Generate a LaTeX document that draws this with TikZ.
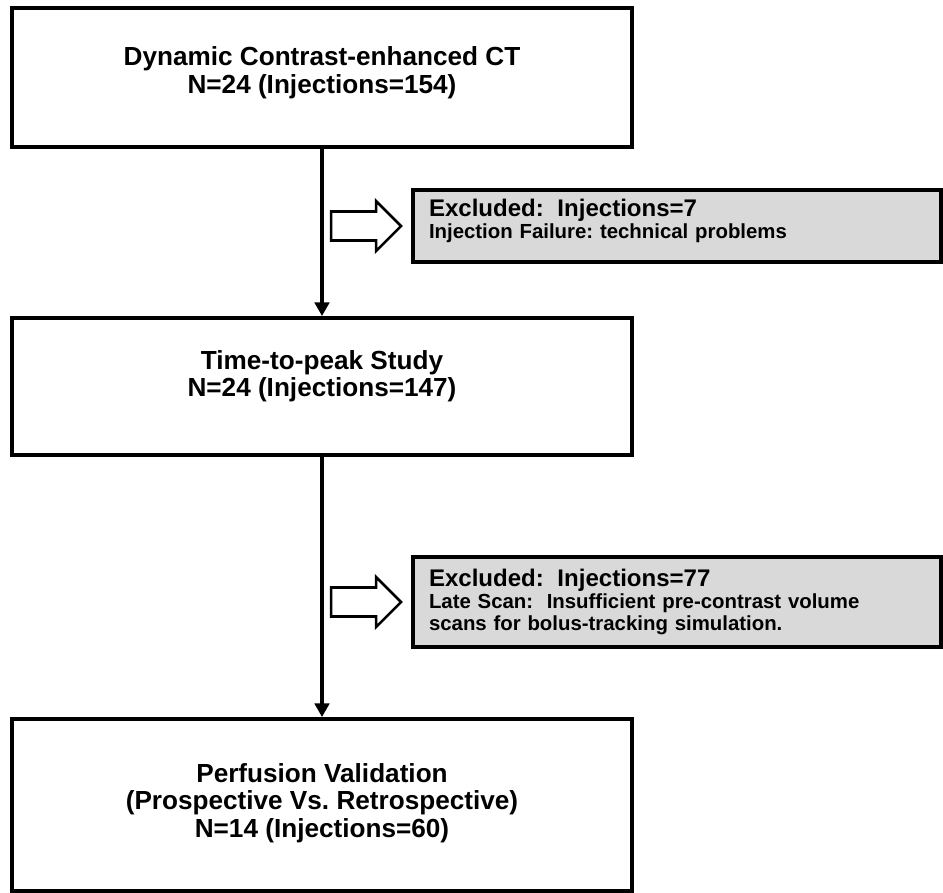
\documentclass[tikz,border=0pt]{standalone}
\usepackage{fontspec}
\setmainfont{Liberation Sans}
\usetikzlibrary{arrows.meta,calc}
\definecolor{flowink}{HTML}{000000}
\definecolor{flowgray}{HTML}{D9D9D9}
\frenchspacing

% hollow block arrow pointing at the west side of an exclusion box
\newcommand{\exclarrow}[1]{%
  \draw[flowink, line width=1.8pt, fill=white, line join=miter]
    ($(#1.west)+(-0.25,0)$) -- ++(-0.625,0.625) -- ++(0,-0.2625)
    -- ++(-1.125,0) -- ++(0,-0.725) -- ++(1.125,0) -- ++(0,-0.2625) -- cycle;}

\begin{document}
\begin{tikzpicture}[
  x=1cm,
  y=1cm,
  every node/.style={font=\bfseries},
  stage/.style={draw=flowink, line width=2.8pt, minimum width=15.5cm,
    align=center, font=\bfseries\fontsize{18.6}{19.6}\selectfont},
  excl/.style={draw=flowink, fill=flowgray, line width=2.8pt,
    minimum width=13.2cm, text width=12.4cm, inner xsep=0.4cm, align=left,
    font=\bfseries\fontsize{14.5}{15.4}\selectfont},
  >={Triangle[length=0.34cm,width=0.36cm]}
]
  \useasboundingbox (0,0) rectangle (23.575,-22.3);

  % ---- study stages ----------------------------------------------------
  \node[stage, minimum height=3.475cm, text depth=0.38cm] (dce) at (8.05,-1.9375)
    {Dynamic Contrast-enhanced CT\\N=24 (Injections=154)};
  \node[stage, minimum height=3.425cm, text depth=0.66cm] (ttp) at (8.05,-9.6625)
    {Time-to-peak Study\\N=24 (Injections=147)};
  \node[stage, minimum height=4.3cm, text depth=0.23cm] (perf) at (8.05,-20.125)
    {Perfusion Validation\\(Prospective Vs. Retrospective)\\N=14 (Injections=60)};

  \draw[flowink, line width=2.8pt, ->] (dce) -- (ttp);
  \draw[flowink, line width=2.8pt, ->] (ttp) -- (perf);

  % ---- exclusions ------------------------------------------------------
  \node[excl, minimum height=1.8cm, text depth=0.9cm] (excla) at (16.925,-5.65)
    {{\fontsize{17.1}{19}\selectfont Excluded:\ \ Injections=7}\\
     Injection Failure: technical problems};
  \node[excl, minimum height=2.25cm] (exclb) at (16.925,-15.05)
    {{\fontsize{17.1}{19}\selectfont Excluded:\ \ Injections=77}\\
     Late Scan:\ \ Insufficient pre-contrast volume\\
     scans for bolus-tracking simulation.};

  \exclarrow{excla}
  \exclarrow{exclb}
\end{tikzpicture}
\end{document}
